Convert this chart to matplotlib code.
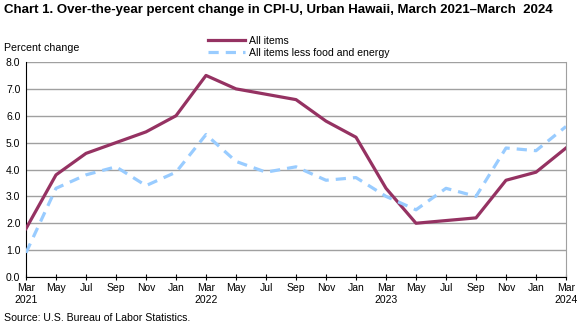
import matplotlib.pyplot as plt

plt.rcParams["font.family"] = ["Liberation Sans", "DejaVu Sans"]

months = ["Mar\n2021", "May", "Jul", "Sep", "Nov", "Jan",
          "Mar\n2022", "May", "Jul", "Sep", "Nov", "Jan",
          "Mar\n2023", "May", "Jul", "Sep", "Nov", "Jan",
          "Mar\n2024"]
all_items = [1.8, 3.8, 4.6, 5.0, 5.4, 6.0, 7.5, 7.0, 6.8, 6.6, 5.8, 5.2,
             3.3, 2.0, 2.1, 2.2, 3.6, 3.9, 4.8]
core = [0.9, 3.3, 3.8, 4.1, 3.4, 3.9, 5.3, 4.3, 3.9, 4.1, 3.6, 3.7,
        3.0, 2.5, 3.3, 3.0, 4.8, 4.7, 5.6]

x = range(len(months))

fig = plt.figure(figsize=(5.86, 3.27), dpi=100)
ax = fig.add_axes([26 / 586, 1 - 277 / 327, 540 / 586, 215 / 327])

ax.plot(x, all_items, color="#953262", lw=2.3, label="All items", zorder=3)
ax.plot(x, core, color="#99CCFF", lw=2.3, ls=(0, (3.2, 2.2)),
        label="All items less food and energy", zorder=3)

ax.set_xlim(0, len(months) - 1)
ax.set_ylim(0, 8)
ax.set_yticks([i * 1.0 for i in range(9)])
ax.set_yticklabels([f"{i:.1f}" for i in range(9)])
ax.set_xticks(list(x))
ax.set_xticklabels(months)
ax.grid(axis="y", color="#A0A0A0", lw=1)
ax.set_axisbelow(True)

for s in ["left", "bottom"]:
    ax.spines[s].set_color("black")
ax.spines["top"].set_visible(False)
ax.spines["right"].set_color("#A0A0A0")
ax.tick_params(axis="x", direction="inout", length=5, labelsize=7.5, pad=2)
ax.tick_params(axis="y", length=0, labelsize=7.5, pad=4)

fig.text(4 / 586, 1 - 10 / 327, "Chart 1. Over-the-year percent change in CPI-U, Urban Hawaii, March 2021\u2013March  2024",
         fontsize=9.5, fontweight="bold", va="center", ha="left")
fig.text(4 / 586, 1 - 48 / 327, "Percent change", fontsize=7.7, va="center", ha="left")
fig.text(4 / 586, 1 - 318 / 327, "Source: U.S. Bureau of Labor Statistics.", fontsize=7.6,
         va="center", ha="left")

fig.legend(loc="center left", bbox_to_anchor=(208 / 586, 1 - 47 / 327), frameon=False,
           fontsize=7.6, handlelength=3.5, handletextpad=0.35, labelspacing=0.2,
           borderpad=0, borderaxespad=0)

fig.savefig("out.png", dpi=100)
